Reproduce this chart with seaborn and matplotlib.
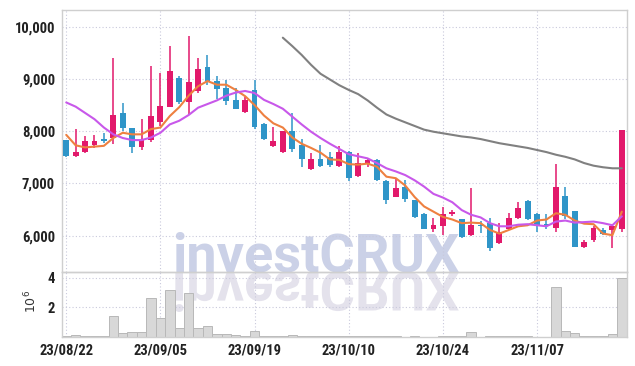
import numpy as np
import pandas as pd
import matplotlib
matplotlib.use("Agg")
import matplotlib.pyplot as plt
import seaborn as sns
from matplotlib.textpath import TextPath
from matplotlib.patches import PathPatch
from matplotlib.font_manager import FontProperties, fontManager
from matplotlib.transforms import Affine2D
from matplotlib.ticker import FuncFormatter

# ---------------- data ----------------
dates = ["23/08/22", "23/08/23", "23/08/24", "23/08/25", "23/08/28", "23/08/29", "23/08/30", "23/08/31",
         "23/09/01", "23/09/04", "23/09/05", "23/09/06", "23/09/07", "23/09/08", "23/09/11", "23/09/12",
         "23/09/13", "23/09/14", "23/09/15", "23/09/18", "23/09/19", "23/09/20", "23/09/21", "23/09/22",
         "23/09/25", "23/09/26", "23/09/27", "23/10/04", "23/10/05", "23/10/06", "23/10/10", "23/10/11",
         "23/10/12", "23/10/13", "23/10/16", "23/10/17", "23/10/18", "23/10/19", "23/10/20", "23/10/23",
         "23/10/24", "23/10/25", "23/10/26", "23/10/27", "23/10/30", "23/10/31", "23/11/01", "23/11/02",
         "23/11/03", "23/11/06", "23/11/07", "23/11/08", "23/11/09", "23/11/10", "23/11/13", "23/11/14",
         "23/11/15", "23/11/16", "23/11/17", "23/11/20"]

open_ = [7830, 7530, 7600, 7740, 7860, 7870, 8350, 8060, 7690, 7830,
         8170, 8470, 9020, 8550, 8770, 9230, 8960, 8830, 8590, 8360,
         8790, 8140, 7720, 7610, 8010, 7730, 7270, 7470, 7510, 7340,
         7600, 7150, 7380, 7450, 7050, 6750, 6930, 6690, 6420, 6130,
         6180, 6410, 6310, 6010, 6210, 6240, 5860, 6130, 6340, 6670,
         6420, 6220, 6150, 6760, 6480, 5780, 5910, 6100, 6100, 6130]
high = [7840, 8040, 7910, 7920, 7960, 9400, 8540, 8070, 8230, 9250,
        9110, 9640, 9050, 9830, 9400, 9460, 9050, 8980, 8820, 8650,
        8980, 8150, 8080, 8010, 8340, 7850, 7580, 7730, 7610, 7710,
        7620, 7580, 7470, 7470, 7070, 7110, 7070, 6690, 6430, 6340,
        6550, 6500, 6320, 6910, 6290, 6340, 6250, 6430, 6640, 6680,
        6430, 6410, 7370, 6940, 6480, 5920, 6190, 6150, 6190, 8030]
low = [7510, 7500, 7580, 7680, 7770, 7750, 8010, 7580, 7640, 7800,
       8100, 8460, 8530, 8320, 8740, 8880, 8610, 8500, 8420, 8340,
       8050, 7840, 7690, 7590, 7610, 7310, 7250, 7310, 7320, 7320,
       7040, 7130, 7310, 7040, 6600, 6740, 6640, 6340, 6120, 6070,
       6020, 6370, 5960, 5990, 6050, 5710, 5850, 6100, 6320, 6300,
       6080, 6130, 6080, 6320, 5780, 5760, 5880, 6020, 5760, 6080]
close = [7530, 7600, 7820, 7820, 7820, 8310, 8060, 7690, 7830, 8290,
         8480, 9150, 8550, 8940, 9190, 8960, 8800, 8570, 8430, 8600,
         8080, 7850, 7820, 8010, 7650, 7470, 7470, 7340, 7360, 7600,
         7100, 7390, 7450, 7060, 6680, 6910, 6710, 6350, 6130, 6210,
         6420, 6450, 5970, 6210, 6180, 5760, 6080, 6340, 6530, 6310,
         6210, 6180, 6930, 6370, 5780, 5880, 6150, 6040, 6190, 8030]
# volume in millions of shares
volume_m = [0.10, 0.16, 0.09, 0.05, 0.05, 1.41, 0.29, 0.36, 0.32, 2.61,
            1.31, 3.15, 0.63, 2.95, 0.63, 0.77, 0.23, 0.23, 0.16, 0.09,
            0.43, 0.09, 0.09, 0.05, 0.16, 0.09, 0.05, 0.04, 0.05, 0.09,
            0.09, 0.04, 0.09, 0.09, 0.04, 0.04, 0.03, 0.04, 0.03, 0.03,
            0.04, 0.05, 0.04, 0.36, 0.02, 0.04, 0.04, 0.04, 0.04, 0.04,
            0.03, 0.02, 3.38, 0.43, 0.25, 0.05, 0.09, 0.05, 0.23, 3.97]
ma5 = [7930, 7730, 7690, 7705, 7720, 7870, 7970, 7940, 7940, 8040,
       8070, 8290, 8460, 8680, 8860, 8960, 8890, 8890, 8790, 8670,
       8500, 8300, 8150, 8070, 7880, 7760, 7680, 7590, 7460, 7450,
       7370, 7360, 7380, 7320, 7130, 7100, 6960, 6740, 6560, 6460,
       6360, 6310, 6240, 6250, 6240, 6110, 6040, 6110, 6180, 6200,
       6290, 6310, 6430, 6400, 6290, 6230, 6220, 6040, 6010, 6460]
ma10 = [8550, 8470, 8350, 8230, 8070, 7940, 7870, 7830, 7830, 7880,
        7970, 8130, 8200, 8310, 8450, 8520, 8590, 8680, 8740, 8770,
        8730, 8600, 8520, 8430, 8280, 8130, 7990, 7870, 7760, 7660,
        7560, 7520, 7480, 7390, 7290, 7230, 7160, 7060, 6940, 6800,
        6730, 6640, 6490, 6400, 6350, 6240, 6180, 6180, 6210, 6220,
        6200, 6180, 6270, 6290, 6250, 6260, 6270, 6240, 6200, 6370]
ma60 = [None] * 23 + [9790, 9630, 9460, 9270, 9100, 8990, 8880,
        8790, 8710, 8590, 8450, 8320, 8240, 8170, 8100, 8030, 7990,
        7960, 7930, 7900, 7880, 7850, 7810, 7770, 7740, 7710, 7680,
        7640, 7600, 7550, 7510, 7460, 7390, 7340, 7310, 7290, 7290]
price_ticks = [6000, 7000, 8000, 9000, 10000]
vol_ticks = [2, 4]

# ---------------- style ----------------
sns.set_theme(style="white")
plt.rcParams["font.family"] = ["DejaVu Sans"]

UP = "#e2196b"
DOWN = "#2f95c8"
GRID = "#c9c9dc"
SPINE = "#cfcfcf"
TXT = "#222222"

installed = {f.name for f in fontManager.ttflist}
if "Liberation Sans Narrow" in installed:
    lab_fp = FontProperties(family="Liberation Sans Narrow", weight="bold", size=10.5)
elif "Roboto Condensed" in installed:
    lab_fp = FontProperties(family="Roboto Condensed", weight="bold", size=10.5)
else:
    lab_fp = FontProperties(family="Roboto", weight="bold", size=9.5)

n = len(dates)
x = np.arange(n)
df = pd.DataFrame({"x": x, "open": open_, "high": high, "low": low, "close": close,
                   "vol": volume_m, "ma5": ma5, "ma10": ma10,
                   "ma60": [np.nan if v is None else v for v in ma60]})

fig = plt.figure(figsize=(6.35, 3.66), dpi=100)
L, R = 62 / 635, 627 / 635
ax = fig.add_axes([L, 1 - 272 / 366, R - L, (272 - 10) / 366])
axv = fig.add_axes([L, 1 - 337 / 366, R - L, (337 - 272) / 366], sharex=ax)

# watermark
wm_font = FontProperties(family="Roboto", weight="bold")
fig.text(172 / 635, (366 - 272) / 366, "investCRUX", fontproperties=wm_font,
         fontsize=39.0, color="#cbd1e7", ha="left", va="baseline", zorder=0.5)
ax.set_zorder(1)
axv.set_zorder(1)
ax.patch.set_alpha(0)

# candles
colors = [UP if c >= o else DOWN for o, c in zip(df["open"], df["close"])]
ax.vlines(df["x"], df["low"], df["high"], colors=colors, lw=1.1, zorder=3)
body_low = np.minimum(df["open"], df["close"])
body_h = np.maximum(np.abs(df["close"] - df["open"]), 25)
ax.bar(df["x"], body_h, bottom=body_low, width=0.62, color=colors, linewidth=0, zorder=4)

# moving averages
sns.lineplot(data=df, x="x", y="ma5", ax=ax, color="#ee8040", lw=1.5, zorder=5)
sns.lineplot(data=df, x="x", y="ma10", ax=ax, color="#c858ea", lw=1.5, zorder=5)
sns.lineplot(data=df.dropna(subset=["ma60"]), x="x", y="ma60", ax=ax, color="#808080", lw=1.5, zorder=5)

# volume
axv.patch.set_alpha(0)
sns.barplot(data=df, x="x", y="vol", ax=axv, native_scale=True, color="#d8d8d8",
            edgecolor="#b8b8b8", linewidth=0.7, width=1.0, saturation=1, errorbar=None, zorder=2)

# reflection of the watermark (decorative)
tp = TextPath((0, 0), "investCRUX", size=39.0 * 100 / 72, prop=wm_font)
refl = PathPatch(tp, transform=Affine2D().scale(1, -1).translate(172, 366 - 272),
                 facecolor="#e4e2ec", edgecolor="none", zorder=0.4)
fig.add_artist(refl)
refl.set_clip_box(axv.bbox)

# axes formatting
ax.set_xlim(-0.45, n - 0.45)
ax.set_ylim(5305, 10320)
axv.set_ylim(0, 4.38)

tick_pos = x[::10]
ax.set_xticks(tick_pos)
axv.set_xticks(tick_pos)
axv.set_xticklabels([dates[i] for i in tick_pos])
ax.tick_params(axis="x", labelbottom=False, length=0)
ax.set_yticks(price_ticks)
ax.yaxis.set_major_formatter(FuncFormatter(lambda v, p: f"{int(v):,}"))
axv.set_yticks(vol_ticks)
axv.set_yticklabels([str(v) for v in vol_ticks])

for a in (ax, axv):
    a.tick_params(length=0, pad=5, labelcolor=TXT)
    for lbl in a.get_xticklabels() + a.get_yticklabels():
        lbl.set_fontproperties(lab_fp)
    a.grid(True, linestyle=(0, (1, 2)), color=GRID, lw=0.8)
    a.set_axisbelow(True)
    for s in a.spines.values():
        s.set_color(SPINE)
        s.set_linewidth(1.0)
ax.set_xlabel("")
ax.set_ylabel("")
axv.set_xlabel("")
axv.set_ylabel(r"$10^{6}$", fontsize=9, color="#333333")
axv.yaxis.set_label_coords(-0.041, 0.55)

fig.savefig("out.png", dpi=100)
